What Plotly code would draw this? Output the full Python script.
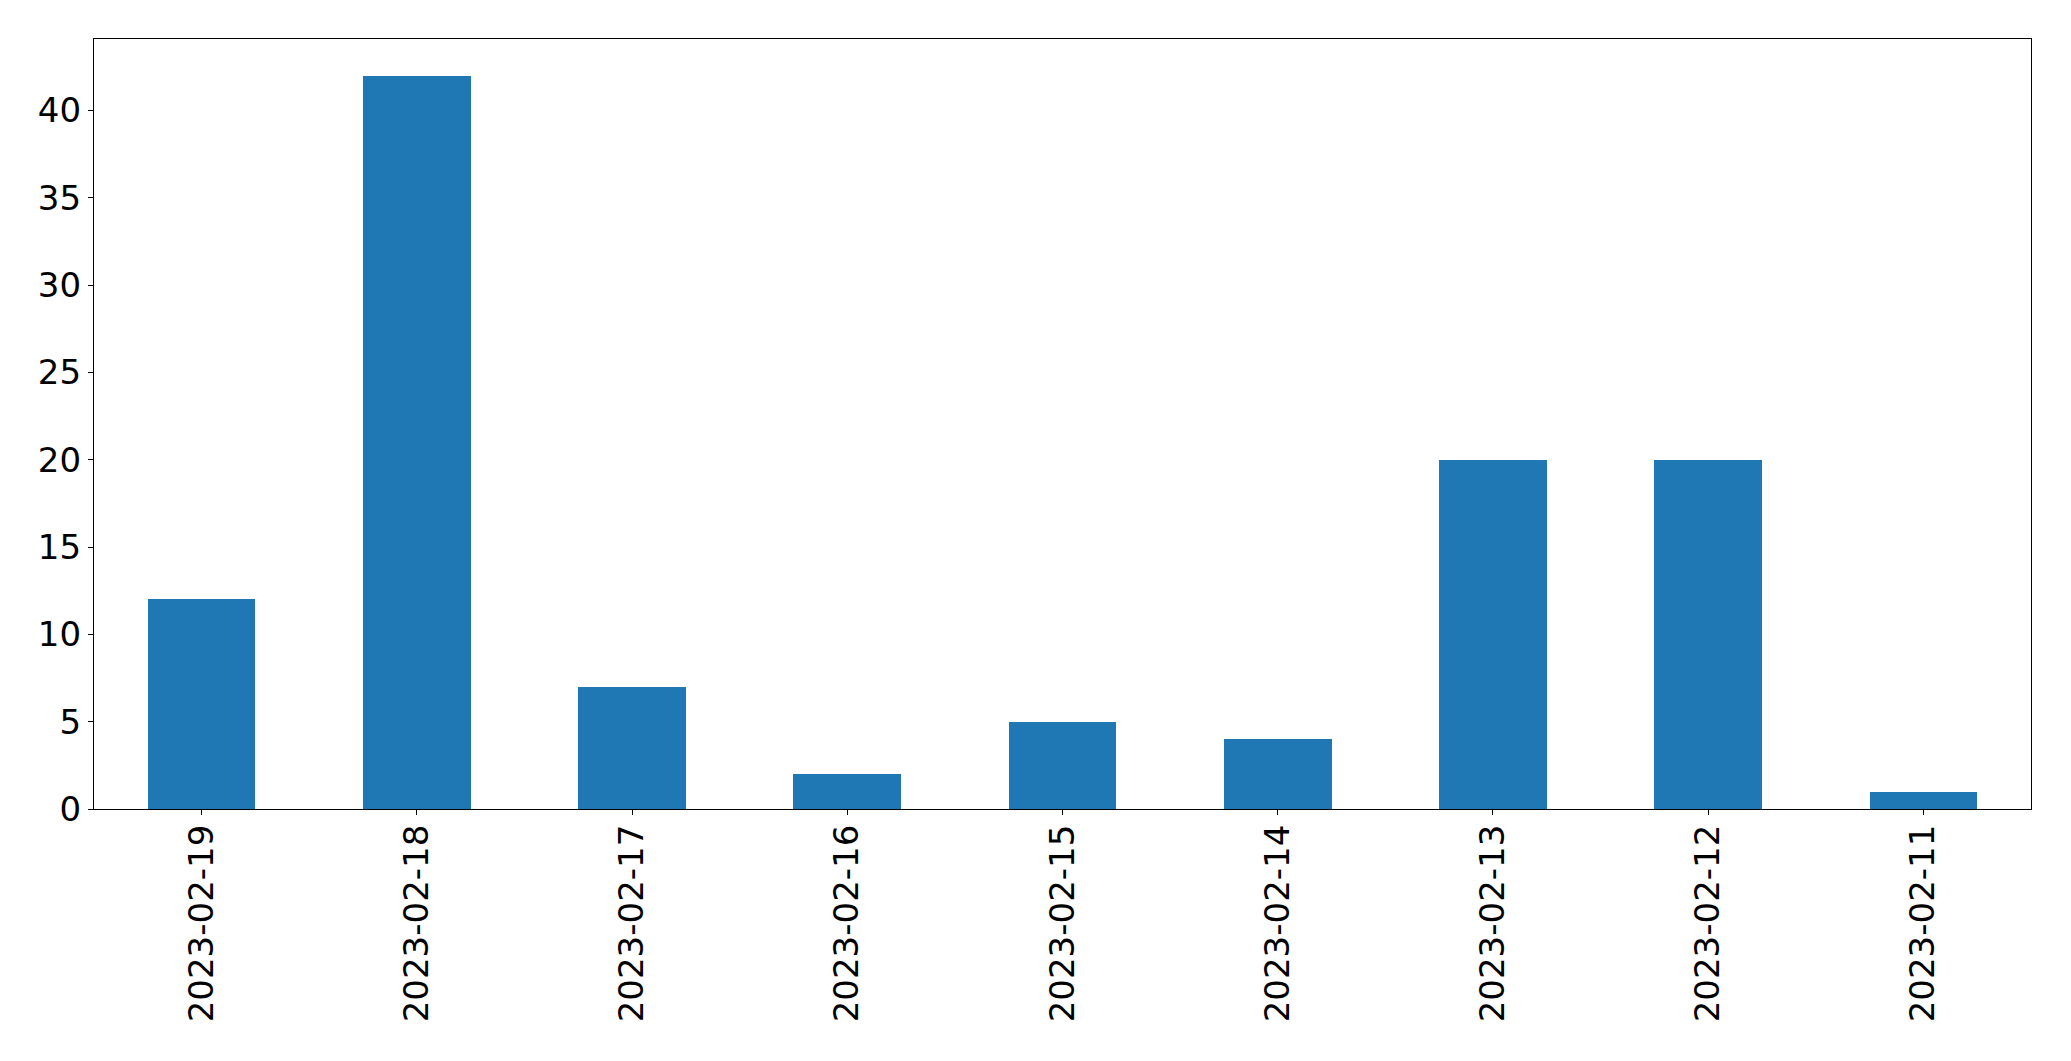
import plotly.graph_objects as go

dates = ["2023-02-19", "2023-02-18", "2023-02-17", "2023-02-16", "2023-02-15",
         "2023-02-14", "2023-02-13", "2023-02-12", "2023-02-11"]
counts = [12, 42, 7, 2, 5, 4, 20, 20, 1]
y_ticks = [0, 5, 10, 15, 20, 25, 30, 35, 40]

fig = go.Figure()
fig.add_trace(go.Bar(x=list(range(len(dates))), y=counts, width=0.5,
                     marker=dict(color="#1f77b4", line=dict(width=0))))

axis_common = dict(showline=True, linecolor="black", linewidth=1.2, mirror=True,
                   ticks="outside", ticklen=5, tickwidth=1.2, tickcolor="black",
                   showgrid=False, zeroline=False,
                   tickfont=dict(family="DejaVu Sans", size=34, color="black"))

fig.update_layout(
    width=2071, height=1061,
    margin=dict(l=86, r=48, t=31, b=260),
    paper_bgcolor="white", plot_bgcolor="white",
    showlegend=False,
    xaxis=dict(range=[-0.5, len(dates) - 0.5], tickmode="array",
               tickvals=list(range(len(dates))), ticktext=dates, tickangle=-90,
               ticklabelstandoff=-4, **axis_common),
    yaxis=dict(range=[0, 44.1], tickmode="array", tickvals=y_ticks,
               ticktext=[str(v) for v in y_ticks], **axis_common),
    bargap=0,
)

fig.write_html("out.html")
